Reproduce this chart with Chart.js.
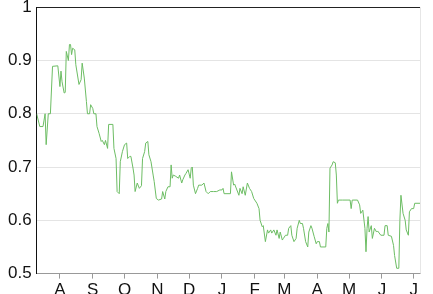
<!DOCTYPE html>
<html>
<head>
<meta charset="utf-8">
<script src="https://cdn.jsdelivr.net/npm/chart.js@4/dist/chart.umd.min.js"></script>
<style>
  html, body { margin: 0; padding: 0; background: #fff; overflow: hidden; }
  #wrap { position: absolute; left: 0; top: -8px; width: 433px; height: 311px; }
</style>
</head>
<body>
<div id="wrap"><canvas id="chart"></canvas></div>
<script>
// days counted from 10 July
const days = [
    0, 3, 6, 8, 9, 11, 13, 15, 20, 22, 23, 24, 26, 27, 28, 30, 31, 32, 33, 34,
    36, 37, 40, 42, 43, 45, 47, 48, 50, 51, 53, 54, 56, 57, 59, 61, 62, 64, 65, 67,
    68, 72, 73, 75, 76, 78, 79, 81, 83, 85, 86, 88, 89, 91, 92, 93, 95, 97, 99, 100,
    102, 103, 105, 106, 108, 110, 111, 113, 115, 118, 119, 121, 122, 124, 126, 127, 128, 129, 131, 134,
    135, 137, 138, 140, 141, 143, 145, 146, 147, 148, 150, 152, 153, 156, 158, 160, 162, 164, 167, 170,
    173, 175, 176, 177, 183, 184, 186, 187, 191, 192, 194, 195, 197, 199, 201, 203, 205, 208, 210, 211,
    213, 214, 216, 218, 219, 221, 222, 224, 226, 227, 229, 230, 232, 233, 235, 237, 238, 240, 241, 243,
    245, 246, 248, 249, 251, 252, 254, 256, 257, 259, 260, 262, 264, 265, 267, 268, 273, 274, 275, 276,
    277, 279, 280, 282, 283, 284, 285, 289, 294, 296, 297, 298, 303, 305, 306, 308, 310, 311, 312, 313,
    314, 316, 317, 319, 321, 322, 325, 328, 329, 331, 332, 335, 337, 338, 340, 342, 343, 344, 346, 348,
    349, 351, 352, 354, 356, 357, 362
];
const values = [
    0.80, 0.776, 0.776, 0.80, 0.742, 0.80, 0.80, 0.889, 0.89, 0.851, 0.88, 0.86, 0.839, 0.84, 0.917, 0.90, 0.93, 0.93, 0.911, 0.923,
    0.92, 0.892, 0.855, 0.864, 0.895, 0.867, 0.823, 0.80, 0.80, 0.817, 0.81, 0.80, 0.80, 0.776, 0.763, 0.748, 0.75, 0.742, 0.75, 0.735,
    0.78, 0.78, 0.735, 0.716, 0.654, 0.65, 0.71, 0.729, 0.742, 0.745, 0.716, 0.72, 0.72, 0.698, 0.685, 0.654, 0.67, 0.66, 0.665, 0.716,
    0.729, 0.745, 0.748, 0.723, 0.71, 0.685, 0.673, 0.641, 0.638, 0.64, 0.654, 0.64, 0.654, 0.663, 0.663, 0.704, 0.679, 0.685, 0.683, 0.679,
    0.685, 0.67, 0.676, 0.685, 0.688, 0.695, 0.679, 0.698, 0.70, 0.666, 0.65, 0.66, 0.666, 0.666, 0.67, 0.654, 0.65, 0.654, 0.654, 0.654,
    0.657, 0.657, 0.66, 0.65, 0.65, 0.691, 0.666, 0.668, 0.647, 0.66, 0.65, 0.663, 0.647, 0.67, 0.66, 0.654, 0.641, 0.632, 0.622, 0.60,
    0.588, 0.59, 0.56, 0.582, 0.576, 0.582, 0.576, 0.582, 0.572, 0.582, 0.566, 0.578, 0.563, 0.566, 0.572, 0.572, 0.585, 0.59, 0.572, 0.56,
    0.566, 0.585, 0.60, 0.594, 0.594, 0.585, 0.56, 0.55, 0.578, 0.59, 0.585, 0.57, 0.556, 0.56, 0.56, 0.55, 0.55, 0.585, 0.594, 0.578,
    0.698, 0.704, 0.71, 0.708, 0.685, 0.632, 0.638, 0.638, 0.638, 0.638, 0.622, 0.638, 0.638, 0.629, 0.613, 0.619, 0.585, 0.541, 0.585, 0.607,
    0.578, 0.59, 0.566, 0.585, 0.578, 0.58, 0.572, 0.572, 0.59, 0.59, 0.572, 0.57, 0.553, 0.534, 0.51, 0.51, 0.60, 0.647, 0.613, 0.60,
    0.582, 0.572, 0.616, 0.622, 0.622, 0.632, 0.632
];

// first day of each month, as day offsets
const monthDays = [22, 53, 83, 114, 144, 175, 206, 234, 265, 295, 326, 356];
const monthLabels = ['A', 'S', 'O', 'N', 'D', 'J', 'F', 'M', 'A', 'M', 'J', 'J'];

const FONT = { family: '"Liberation Sans", Arial, sans-serif', size: 17 };

// thin light border on the right of the plot
const rightEdge = {
    id: 'rightEdge',
    afterDraw(chart) {
        const a = chart.chartArea;
        const ctx = chart.ctx;
        ctx.save();
        ctx.strokeStyle = '#e6e6e6';
        ctx.lineWidth = 1;
        ctx.beginPath();
        ctx.moveTo(Math.round(a.right) + 0.5, a.top);
        ctx.lineTo(Math.round(a.right) + 0.5, a.bottom);
        ctx.stroke();
        ctx.restore();
    }
};

new Chart(document.getElementById('chart'), {
    type: 'line',
    data: {
        datasets: [{
            data: days.map((d, i) => ({ x: d, y: values[i] })),
            borderColor: '#6dbd64',
            borderWidth: 1,
            pointRadius: 0,
            tension: 0,
            fill: false
        }]
    },
    options: {
        responsive: true,
        maintainAspectRatio: false,
        animation: false,
        layout: { padding: { left: 3, right: 13, top: 0, bottom: 0 } },
        plugins: {
            legend: { display: false },
            tooltip: { enabled: false }
        },
        scales: {
            x: {
                type: 'linear',
                min: 0,
                max: 362,
                afterBuildTicks: (scale) => {
                    scale.ticks = monthDays.map(v => ({ value: v }));
                },
                ticks: {
                    autoSkip: false,
                    maxRotation: 0,
                    color: '#111',
                    font: FONT,
                    padding: 2,
                    callback: (v) => {
                        const i = monthDays.indexOf(v);
                        return i >= 0 ? monthLabels[i] : '';
                    }
                },
                grid: {
                    drawOnChartArea: false,
                    drawTicks: true,
                    tickLength: 5,
                    color: '#999'
                },
                border: { color: '#999' }
            },
            y: {
                min: 0.5,
                max: 1,
                ticks: {
                    stepSize: 0.1,
                    color: '#111',
                    font: FONT,
                    padding: 5,
                    callback: (v) => Math.abs(v - 1) < 1e-9 ? '1' : v.toFixed(1)
                },
                grid: {
                    drawTicks: false,
                    color: (c) => c.tick && Math.abs(c.tick.value - 1) < 1e-9 ? '#222' : '#e4e4e4'
                },
                border: { color: '#111' }
            }
        }
    },
    plugins: [rightEdge]
});
</script>
</body>
</html>
